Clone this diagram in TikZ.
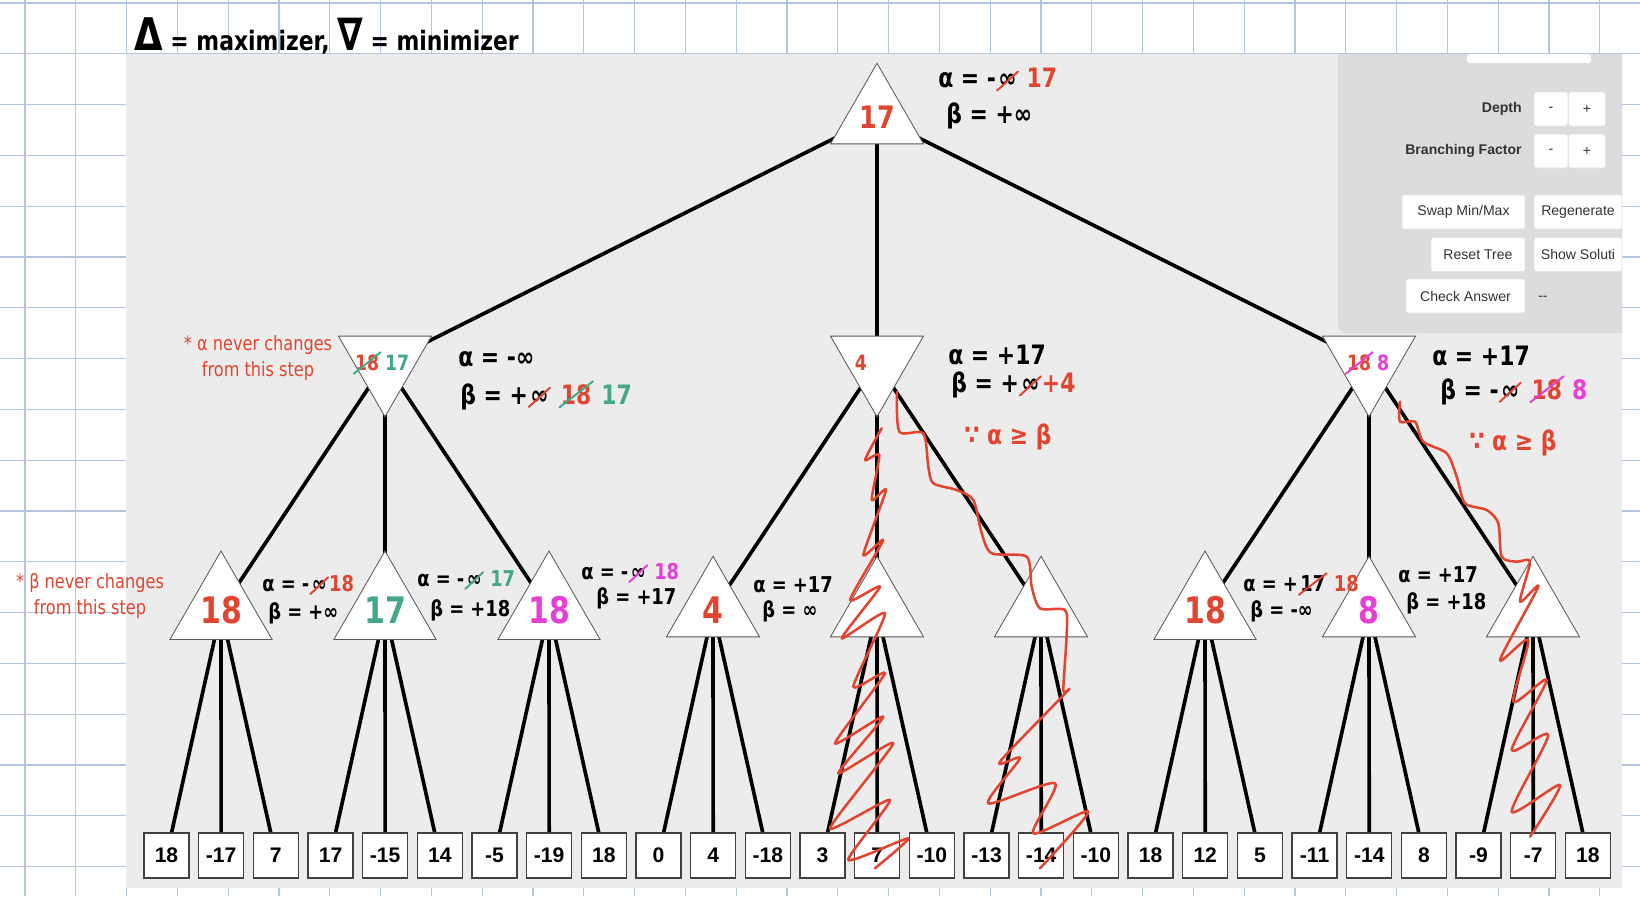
\documentclass[tikz,border=0pt]{standalone}
\usepackage{fontspec}
\setmainfont{Liberation Sans}
\newfontfamily\hand[FakeStretch=0.82]{DejaVu Sans}
\usetikzlibrary{shapes.geometric}
\definecolor{hred}{HTML}{E2452F}
\definecolor{hgreen}{HTML}{43A888}
\definecolor{hpink}{HTML}{E63FD3}
\definecolor{gridblue}{HTML}{B4C5DE}
\definecolor{panelgray}{HTML}{ECECEC}
\definecolor{ctrlgray}{HTML}{DCDCDC}
\definecolor{trigray}{HTML}{5A5A5A}
\definecolor{ctext}{HTML}{333333}
\pgfdeclarelayer{back}
\pgfsetlayers{back,main}
% crossed out value
\newcommand\strike[2]{\tikz[baseline=(s.base)]{\node[shape=rectangle,draw=none,fill=none,minimum size=0pt,
    inner sep=0pt,outer sep=0pt] (s) {#2};
  \draw[#1,line width=1.4pt,line cap=round] ([xshift=-1pt,yshift=-2pt]s.south west) -- ([xshift=1pt,yshift=2pt]s.north east);}}
\tikzset{
  gridline/.style={gridblue,line width=0.9pt},
  link/.style={line width=2.6pt,black},
  maxn/.style={regular polygon,regular polygon sides=3,minimum size=2.685cm,inner sep=0pt,
    draw=trigray,fill=white,line width=0.6pt,font=\hand\bfseries\fontsize{26}{26}\selectfont},
  minn/.style={maxn,shape border rotate=180,font=\hand\bfseries\fontsize{15}{15}\selectfont},
  leaf/.style={draw=black!75,fill=white,line width=0.9pt,minimum width=1.125cm,minimum height=1.125cm,
    inner sep=0pt,font=\bfseries\fontsize{15}{15}\selectfont},
  ann/.style={anchor=west,inner sep=0pt,font=\hand\bfseries\fontsize{19}{21}\selectfont},
  annsm/.style={anchor=west,inner sep=0pt,font=\hand\bfseries\fontsize{15.5}{17}\selectfont},
  note/.style={align=center,inner sep=0pt,text=hred,font=\hand\fontsize{14}{18}\selectfont},
  squig/.style={hred,line width=1.8pt,line cap=round,line join=round},
  btn/.style={fill=white,draw=black!10,rounded corners=2pt,inner sep=0pt,minimum height=0.85cm,
    text=ctext,font=\fontsize{10}{12}\selectfont},
  lbl/.style={anchor=east,inner sep=0pt,text=ctext,font=\bfseries\fontsize{10}{12}\selectfont}
}
\begin{document}
\begin{tikzpicture}[x=0.025cm,y=-0.025cm]
\useasboundingbox (0,0) rectangle (1640,896);
\begin{pgfonlayer}{back}
\fill[white] (0,0) rectangle (1640,896);
\foreach \k in {0,...,32} \draw[gridline] ({25+50.8*\k},0) -- ({25+50.8*\k},896);
\foreach \k in {0,...,17} \draw[gridline] (0,{3+50.8*\k}) -- (1640,{3+50.8*\k});
\fill[panelgray] (126,54) rectangle (1622,888);
\fill[ctrlgray] (1622,54) -- (1338,54) -- (1338,325) arc[start angle=180,end angle=270,radius=0.2cm] -- (1622,333) -- cycle;
\end{pgfonlayer}

% control panel
\fill[white,rounded corners=2pt] (1467,54) rectangle (1591,63);
\draw[black!14,line width=0.6pt] (1361,78) -- (1622,78) (1361,182) -- (1622,182);
\node[lbl] (depth) at (1522,109) {Depth};
\node[btn,minimum width=0.85cm] (dminus) at (1551,109) {-};
\node[btn,minimum width=0.925cm] (dplus) at (1587,109) {+};
\node[lbl] (branch) at (1522,151) {Branching Factor};
\node[btn,minimum width=0.85cm] (bminus) at (1551,151) {-};
\node[btn,minimum width=0.925cm] (bplus) at (1587,151) {+};
\node[btn,minimum width=3.075cm] (swap) at (1463.5,212) {Swap Min/Max};
\node[btn,minimum width=2.2cm] (regen) at (1578,212) {Regenerate};
\node[btn,minimum width=2.35cm] (reset) at (1478,254.5) {Reset Tree};
\node[btn,minimum width=2.2cm] (show) at (1578,254.5) {Show Soluti};
\node[btn,minimum width=2.975cm] (check) at (1465.5,296) {Check Answer};
\node[anchor=west,inner sep=0pt,text=ctext,font=\fontsize{10}{12}\selectfont] (result) at (1538,298) {-{}-};

% tree
\node[maxn,text=hred,font=\hand\bfseries\fontsize{22}{22}\selectfont] (root) at (877,117) {17};
\node[minn] (a) at (385,363) {\makebox[0pt]{\hspace*{-0.2cm}\strike{hgreen}{\textcolor{hred}{18}}\,\textcolor{hgreen}{17}}};
\node[minn,text=hred] (b) at (877,363) {\makebox[0pt]{\hspace*{-0.8cm}4}};
\node[minn] (c) at (1369,363) {\makebox[0pt]{\hspace*{-0.1cm}\strike{hpink}{\textcolor{hred}{18}}\,\textcolor{hpink}{8}}};
\node[maxn,text=hred] (a1) at (221,610) {18};
\node[maxn,text=hgreen] (a2) at (385,610) {17};
\node[maxn,text=hpink] (a3) at (549,610) {18};
\node[maxn,text=hred] (b1) at (713,610) {4};
\node[maxn] (b2) at (877,610) {};
\node[maxn] (b3) at (1041,610) {};
\node[maxn,text=hred] (c1) at (1205,610) {18};
\node[maxn,text=hpink] (c2) at (1369,610) {8};
\node[maxn] (c3) at (1533,610) {};
\foreach \v [count=\i from 0] in {18,-17,7,17,-15,14,-5,-19,18,0,4,-18,3,7,-10,-13,-14,-10,18,12,5,-11,-14,8,-9,-7,18}
  \node[leaf] (l\i) at ({166.5+54.67*\i},855.5) {\v};

\begin{pgfonlayer}{back}
\foreach \p/\q in {root/a,root/b,root/c,a/a1,a/a2,a/a3,b/b1,b/b2,b/b3,c/c1,c/c2,c/c3}
  \draw[link] (\p.center) -- (\q.center);
\foreach \p [count=\i from 0] in {a1,a2,a3,b1,b2,b3,c1,c2,c3}
  \foreach \j in {0,1,2} {
    \pgfmathtruncatemacro\k{3*\i+\j}
    \draw[link] (\p.center) -- (l\k.center);
  }
\end{pgfonlayer}

% handwritten notes
\node[anchor=base west,inner sep=0pt,font=\hand\bfseries\fontsize{19}{21}\selectfont] (title) at (134,50)
  {{\fontsize{32}{32}\selectfont Δ} = maximizer, {\fontsize{32}{32}\selectfont ∇} = minimizer};
\node[ann] (rA) at (938,80) {α = -\strike{hred}{∞} \textcolor{hred}{17}};
\node[ann] (rB) at (946,116) {β = +∞};
\node[note] (aN) at (258,358) {* α never changes\\from this step};
\node[ann] (aA) at (458,359) {α = -∞};
\node[ann] (aB) at (460,395) {β = +\strike{hred}{∞} \strike{hgreen}{\textcolor{hred}{18}} \textcolor{hgreen}{17}};
\node[ann] (bA) at (948,355) {α = +17};
\node[ann] (bB) at (951,385) {β = +\strike{hred}{∞}\textcolor{hred}{+4}};
\node[ann,text=hred] (bW) at (964,437) {∵ α ≥ β};
\node[ann] (cA) at (1432,356) {α = +17};
\node[ann] (cB) at (1440,390) {β = -\strike{hred}{∞} \strike{hpink}{\textcolor{hred}{18}} \textcolor{hpink}{8}};
\node[ann,text=hred] (cW) at (1469,443) {∵ α ≥ β};
\node[note] (a1N) at (90,596) {* β never changes\\from this step};
\node[annsm] (a1A) at (262,585) {α = -\strike{hred}{∞}\textcolor{hred}{18}};
\node[annsm] (a1B) at (268,613) {β = +∞};
\node[annsm] (a2A) at (417,580) {α = -\strike{hgreen}{∞} \textcolor{hgreen}{17}};
\node[annsm] (a2B) at (430,610) {β = +18};
\node[annsm] (a3A) at (581,573) {α = -\strike{hpink}{∞} \textcolor{hpink}{18}};
\node[annsm] (a3B) at (596,598) {β = +17};
\node[annsm] (b1A) at (753,585) {α = +17};
\node[annsm] (b1B) at (762,611) {β = ∞};
\node[annsm] (c1A) at (1243,584) {α = +\strike{hred}{17} \textcolor{hred}{18}};
\node[annsm] (c1B) at (1250,611) {β = -∞};
\node[annsm] (c2A) at (1398,575) {α = +17};
\node[annsm] (c2B) at (1406,603) {β = +18};

% pruned branches
\draw[squig] plot[smooth,tension=0.35] coordinates {(881.7,428.3) (865,460) (879.3,455) (871.7,500) (886,490)
  (863.3,555) (883.3,540) (850,600) (880,586.7) (841.7,638.3) (885,613.3) (853.3,686.7) (885,673.3)
  (835,743.3) (883.3,716.7) (838.3,773.3) (893.3,743.3) (830,828.3) (890,800) (848.3,860) (908.3,838.3) (875,868.3)};
\draw[squig] plot[smooth,tension=0.45] coordinates {(897,392) (899.3,431.7) (923.3,433.3) (928.3,466.7) (933.3,483.3)
  (956.7,490) (973.3,500) (981.7,533.3) (991.7,553.3) (1026.7,556.7) (1031.7,586.7) (1040,608.3) (1065,610)
  (1066.7,633.3) (1063.3,690) (1066.7,691.7) (1000,761.7) (1020,758.3) (988.3,803.3) (1055,783.3)
  (1033.3,833.3) (1088.3,811.7) (1040,868.3)};
\draw[squig] plot[smooth,tension=0.45] coordinates {(1400,401.7) (1400,421.7) (1415,421.7) (1423.3,441.7)
  (1446.7,453.3) (1456.7,476.7) (1465,503.3) (1486.7,510) (1498.3,523.3) (1501.7,556.7) (1516.7,561.7)
  (1530,561.7) (1520,601.7) (1538.3,586.7) (1500,660) (1528.3,640) (1513.3,701.7) (1546.7,680)
  (1511.7,750) (1548.3,735) (1511.7,811.7) (1560,785) (1530,836.7)};
\end{tikzpicture}
\end{document}
